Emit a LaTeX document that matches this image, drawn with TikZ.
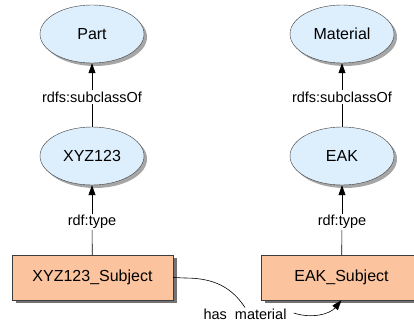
\documentclass[tikz,border=0pt]{standalone}
\usepackage{fontspec}
\setmainfont{Liberation Sans}
\usetikzlibrary{shapes.geometric,shadows,arrows.meta}
\definecolor{clsfill}{RGB}{221,238,252}
\definecolor{subfill}{RGB}{252,196,158}
\definecolor{edgegray}{RGB}{60,60,60}
\tikzset{
  cls/.style={ellipse, draw=edgegray, fill=clsfill, minimum width=104pt, minimum height=58pt, inner sep=0pt,
    font=\fontsize{16}{19}\selectfont,
    drop shadow={shadow xshift=3pt, shadow yshift=-3pt, fill=black!35, opacity=1}},
  subj/.style={rectangle, draw=edgegray, fill=subfill, minimum width=161pt, minimum height=45pt, inner sep=0pt,
    font=\fontsize{16}{19}\selectfont,
    drop shadow={shadow xshift=3.5pt, shadow yshift=-3pt, fill=black!55, opacity=1}},
  lbl/.style={inner sep=1pt, font=\fontsize{14.5}{17}\selectfont},
  conn/.style={draw=black, line width=0.6pt},
  tip/.style={-{Triangle[length=10pt,width=7pt]}}
}
\begin{document}
\begin{tikzpicture}[x=1pt,y=-1pt]
\useasboundingbox (0,0) rectangle (414,321);
\fill[white] (0,0) rectangle (414,321);
\node[cls] (part) at (92,34) {Part};
\node[cls] (mat) at (342,34) {Material};
\node[cls] (xyz) at (92,156) {XYZ123};
\node[cls] (eak) at (342,156) {EAK};
\node[subj] (xsub) at (92.5,277.5) {XYZ123\_Subject};
\node[subj] (esub) at (341.5,277.5) {EAK\_Subject};
\node[lbl] (l1) at (92,97) {rdfs:subclassOf};
\node[lbl] (l2) at (342,97) {rdfs:subclassOf};
\node[lbl] (l3) at (92,222) {rdf:type};
\node[lbl] (l4) at (342,222) {rdf:type};
\node[lbl] (hm) at (245,314) {has\ \ material};
\draw[conn] (xyz) -- (l1);
\draw[conn,tip] (l1) -- (part);
\draw[conn] (eak) -- (l2);
\draw[conn,tip] (l2) -- (mat);
\draw[conn] (xsub) -- (l3);
\draw[conn,tip] (l3) -- (xyz);
\draw[conn] (esub) -- (l4);
\draw[conn,tip] (l4) -- (eak);
\draw[conn] (xsub.east) -- (185,278) .. controls (215,278) and (232,288) .. (hm.north);
\draw[conn,tip] (hm.east) ++(6pt,1pt) .. controls (312,319) and (330,314) .. (esub.south);
\end{tikzpicture}
\end{document}
